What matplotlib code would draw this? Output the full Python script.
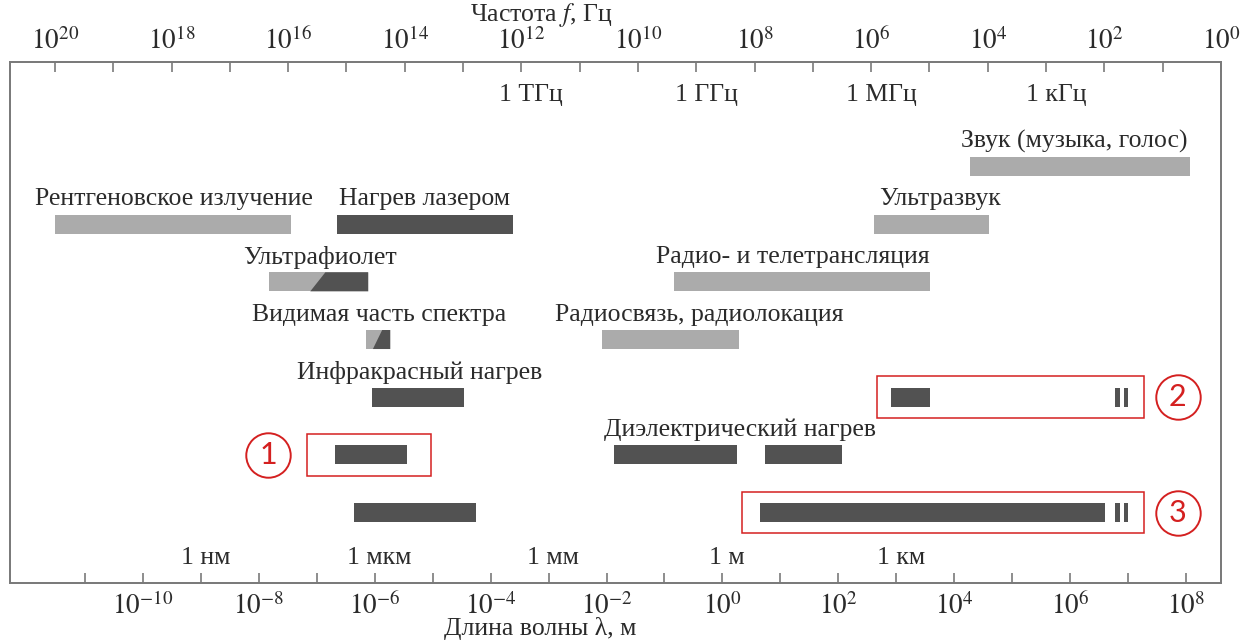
import matplotlib
matplotlib.use("Agg")
import matplotlib.pyplot as plt
from matplotlib.patches import Rectangle, Polygon

plt.rcParams['font.family'] = ['Liberation Serif', 'DejaVu Serif']
plt.rcParams['mathtext.fontset'] = 'stix'

# ---------------- data (log10 of wavelength in metres) ----------------
band_names = ["Звук (музыка, голос)", "Рентгеновское излучение", "Нагрев лазером",
              "Ультразвук", "Ультрафиолет", "Радио- и телетрансляция",
              "Видимая часть спектра", "Радиосвязь, радиолокация",
              "Инфракрасный нагрев", "Диэлектрический нагрев"]
band_name_row = [0, 1, 1, 1, 2, 2, 3, 3, 4, 5]
band_name_pos = [6.07, -9.46, -5.14, 3.75, -6.95, 1.21, -5.92, -0.40, -5.23, 0.31]

bar_row = [0, 1, 1, 1, 2, 3, 4, 4, 5, 5, 5, 6, 6]
bar_lo = [4.27, -11.51, -6.65, 2.62, -0.83, -2.08, -6.04, 2.90, -6.68, -1.87, 0.74, -6.36, 0.65]
bar_hi = [8.07, -7.44, -3.61, 4.59, 3.58, 0.29, -4.45, 3.58, -5.44, 0.25, 2.07, -4.25, 6.60]
bar_tone = ['light', 'light', 'dark', 'light', 'light', 'light', 'dark', 'dark',
            'dark', 'dark', 'dark', 'dark', 'dark']

# two-tone bars (ultraviolet, visible): light part, then dark part after a slanted split
split_row = [2, 3]
split_lo = [-7.82, -6.15]
split_hi = [-6.11, -5.73]
split_top = [-6.85, -5.87]
split_bottom = [-7.11, -6.03]

# "||" break marks
break_row = [4, 4, 6, 6]
break_lo = [6.77, 6.92, 6.77, 6.92]
break_hi = [6.85, 7.00, 6.85, 7.00]

# red highlight boxes with circled numbers
box_label = ["1", "2", "3"]
box_row = [5, 4, 6]
box_lo = [-7.165, 2.668, 0.34]
box_hi = [-5.026, 7.28, 7.28]
circle_pos = [-7.84, 7.85, 7.85]

freq_tick_labels = ["1 ТГц", "1 ГГц", "1 МГц", "1 кГц"]
freq_tick_vals = [12, 9, 6, 3]
wl_tick_labels = ["1 нм", "1 мкм", "1 мм", "1 м", "1 км"]
wl_tick_vals = [-9, -6, -3, 0, 3]

wl_major = list(range(-11, 9))
freq_major = list(range(20, -1, -1))

# ---------------- layout / style ----------------
W, H = 1245, 642
fig = plt.figure(figsize=(W / 100, H / 100), dpi=100)
ax = fig.add_axes([10 / W, 1 - 583 / H, 1211 / W, 521 / H])
ax.set_xlim(-12.29, 8.60)
ax.set_ylim(7.22, -1.81)

LIGHT = '#ababab'
DARK = '#525252'
FRAME = '#7a7a7a'
TXT = '#2b2b2b'
RED = '#d42020'
BH = 0.33
FS = 18.5
TFS = 19.5

for s in ax.spines.values():
    s.set_color(FRAME)
    s.set_linewidth(1.3)

ax.set_xticks(wl_major)
ax.set_xticklabels([(r'$10^{%d}$' % v) if v % 2 == 0 else '' for v in wl_major],
                   fontsize=TFS, color=TXT)
ax.tick_params(axis='x', direction='in', length=7.5, width=1.2, color=FRAME, pad=7)
ax.set_yticks([])

axt = ax.twiny()
axt.set_xlim(20.77, 0.0)
axt.set_xticks(freq_major)
axt.set_xticklabels([(r'$10^{%d}$' % v) if v % 2 == 0 else '' for v in freq_major],
                    fontsize=TFS, color=TXT)
axt.tick_params(axis='x', direction='in', length=7.5, width=1.2, color=FRAME, pad=5)
for s in axt.spines.values():
    s.set_color(FRAME)
    s.set_linewidth(1.3)

# bars
for r, lo, hi, t in zip(bar_row, bar_lo, bar_hi, bar_tone):
    ax.add_patch(Rectangle((lo, r - BH / 2), hi - lo, BH,
                           facecolor=LIGHT if t == 'light' else DARK, edgecolor='none'))

for r, lo, hi, st, sb in zip(split_row, split_lo, split_hi, split_top, split_bottom):
    ax.add_patch(Rectangle((lo, r - BH / 2), hi - lo, BH, facecolor=LIGHT, edgecolor='none'))
    ax.add_patch(Polygon([(sb, r + BH / 2), (st, r - BH / 2), (hi, r - BH / 2), (hi, r + BH / 2)],
                         closed=True, facecolor=DARK, edgecolor='none'))

for r, lo, hi in zip(break_row, break_lo, break_hi):
    ax.add_patch(Rectangle((lo, r - BH / 2), hi - lo, BH, facecolor=DARK, edgecolor='none'))

# band names
for name, r, x in zip(band_names, band_name_row, band_name_pos):
    ax.text(x, r - 0.43, name, ha='center', va='center', fontsize=FS, color=TXT)

# red boxes
for lab, r, lo, hi, cx in zip(box_label, box_row, box_lo, box_hi, circle_pos):
    ax.add_patch(Rectangle((lo, r - 0.36), hi - lo, 0.72, facecolor='none',
                           edgecolor=RED, linewidth=1.1))
    ax.plot([cx], [r], marker='o', markersize=32, markerfacecolor='none',
            markeredgecolor=RED, markeredgewidth=1.4, clip_on=False)
    ax.text(cx, r, lab, ha='center', va='center', fontsize=22, color=RED,
            family=['Lato', 'DejaVu Sans'])

# frequency labels (top inside) and wavelength labels (bottom inside)
for lab, v in zip(freq_tick_labels, freq_tick_vals):
    axt.text(v - 0.17, -1.23, lab, ha='center', va='center', fontsize=FS, color=TXT,
             transform=axt.transData)
for lab, v in zip(wl_tick_labels, wl_tick_vals):
    ax.text(v + 0.08, 6.78, lab, ha='center', va='center', fontsize=FS, color=TXT)

# axis titles
fig.text(541 / W, 1 - 15 / H, 'Частота $f$, Гц', ha='center', va='center',
         fontsize=FS, color=TXT)
fig.text(540 / W, 1 - 629 / H, 'Длина волны λ, м', ha='center', va='center',
         fontsize=FS, color=TXT)

fig.savefig('out.png', dpi=100)
